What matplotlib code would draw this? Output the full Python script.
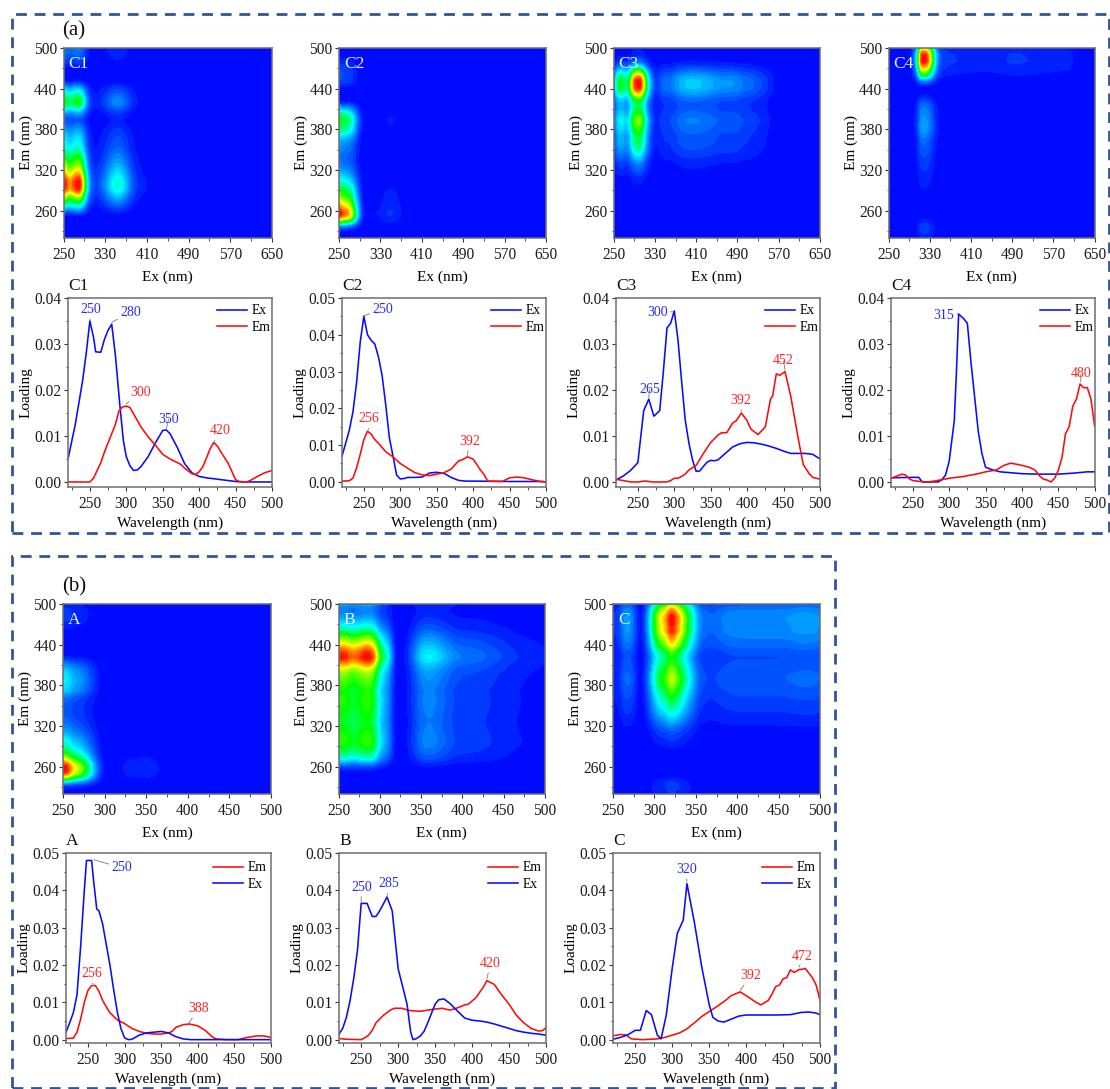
# -*- coding: utf-8 -*-

import numpy as np
import matplotlib
matplotlib.use("Agg")
import matplotlib.pyplot as plt
import matplotlib.patches as mpatches
from matplotlib.colors import LinearSegmentedColormap
from matplotlib.ticker import FormatStrFormatter

FIG_W, FIG_H = 1110, 1089

# loadings, ex also carries the part past 500 nm seen in the maps
c1_ex_x = [220, 230, 240, 245, 250, 255, 258, 265, 270, 275, 280, 285, 291, 296, 300, 305, 310, 315, 320, 330, 340, 350, 355, 360, 370, 380, 390, 400, 410, 420, 440, 450, 460, 500, 650]
c1_ex = [.005, .0125, .022, .028, .035, .0315, .0283, .0282, .031, .033, .0343, .0276, .017, .009, .0055, .0035, .0025, .0026, .0033, .0055, .0085, .0112, .0113, .0105, .0075, .004, .002, .0012, .0009, .0007, .0003, .0001, 0, 0, 0]
c1_em_x = [220, 250, 255, 260, 265, 270, 280, 285, 290, 295, 300, 305, 310, 320, 330, 340, 350, 360, 370, 375, 380, 390, 395, 400, 405, 410, 415, 420, 425, 430, 440, 450, 455, 465, 470, 480, 490, 500]
c1_em = [0, 0, .0008, .0025, .0042, .0065, .0105, .0125, .0155, .0163, .0165, .0162, .0148, .012, .0098, .008, .006, .005, .0042, .0038, .003, .0018, .0016, .0022, .0033, .0052, .0072, .0086, .0078, .0065, .004, .0005, .0001, 0, .0003, .0012, .002, .0025]

c2_ex_x = [220, 230, 235, 240, 245, 250, 255, 260, 265, 270, 275, 280, 285, 290, 295, 300, 305, 310, 320, 330, 340, 350, 360, 370, 380, 390, 400, 450, 490, 500, 650]
c2_ex = [.007, .014, .019, .027, .038, .045, .04, .0385, .0375, .034, .029, .021, .012, .007, .0018, .0008, .0009, .0012, .0012, .0013, .0024, .0026, .0023, .0012, .0004, .0002, .0002, .0001, .0001, 0, 0]
c2_em_x = [220, 230, 235, 240, 245, 250, 255, 260, 265, 270, 280, 290, 300, 310, 320, 330, 340, 350, 360, 370, 380, 385, 392, 400, 410, 415, 420, 440, 450, 460, 470, 480, 490, 500]
c2_em = [.0002, .0003, .001, .0038, .0075, .0115, .0138, .013, .0115, .0105, .0082, .0068, .005, .0037, .0025, .0019, .0017, .0021, .0025, .0035, .0057, .006, .0068, .0062, .0032, .002, .0002, .0001, .0011, .0013, .0011, .0006, .0002, 0]

c3_ex_x = [220, 230, 240, 250, 258, 265, 272, 280, 285, 290, 295, 300, 305, 310, 315, 320, 325, 330, 335, 340, 345, 350, 355, 360, 370, 380, 390, 400, 410, 420, 430, 440, 450, 460, 470, 480, 490, 500, 520, 540, 560, 575, 590, 650]
c3_ex = [.0004, .0013, .0025, .0042, .0155, .018, .0143, .0155, .024, .0335, .0345, .0372, .031, .022, .0135, .0085, .0048, .0023, .0024, .0034, .0043, .0047, .0046, .0048, .0062, .0076, .0083, .0086, .0085, .0082, .0078, .0073, .0067, .0062, .0062, .0062, .006, .005, .0042, .0028, .001, .0002, 0, 0]
c3_em_x = [220, 230, 240, 250, 260, 270, 280, 290, 295, 300, 305, 310, 315, 320, 330, 340, 350, 360, 365, 372, 380, 385, 392, 400, 405, 415, 425, 432, 435, 440, 445, 452, 460, 465, 470, 477, 485, 490, 500]
c3_em = [.0006, .0003, 0, 0, .0002, 0, 0, 0, .0003, .0008, .0008, .0012, .0017, .0026, .0036, .0062, .0086, .0102, .0107, .0107, .0128, .0133, .015, .0133, .0115, .0103, .012, .018, .0187, .0235, .0232, .024, .0185, .014, .0095, .0038, .0018, .001, .0006]

c4_ex_x = [220, 250, 258, 263, 285, 290, 295, 300, 307, 310, 313, 320, 325, 330, 335, 340, 345, 350, 360, 370, 400, 420, 450, 470, 490, 500, 550, 600, 620, 650]
c4_ex = [.0009, .001, .001, 0, 0, .0005, .0015, .0045, .0133, .024, .0365, .0355, .0345, .026, .0185, .011, .0062, .0032, .0026, .0022, .0018, .0017, .0017, .0019, .0022, .0022, .0018, .0015, .0001, 0]
c4_em_x = [220, 230, 235, 240, 245, 250, 260, 270, 280, 290, 300, 320, 340, 350, 365, 375, 385, 400, 410, 418, 425, 430, 435, 440, 445, 450, 455, 460, 465, 470, 475, 480, 485, 490, 495, 500]
c4_em = [.0008, .0014, .0017, .0015, .0007, .0003, .0001, 0, .0002, .0005, .0008, .0012, .0018, .0022, .0026, .0036, .0041, .0036, .0032, .0026, .0012, .0006, .0004, 0, .0008, .0025, .0052, .0105, .012, .0165, .018, .0213, .0205, .0205, .018, .0122]

a_ex_x = [220, 225, 230, 235, 240, 245, 248, 255, 258, 262, 265, 270, 275, 280, 285, 290, 295, 300, 305, 310, 320, 330, 340, 350, 360, 370, 380, 390, 500]
a_ex = [.002, .0045, .0072, .012, .025, .04, .048, .048, .042, .035, .0345, .031, .0255, .02, .0135, .0075, .003, .0005, 0, .0001, .0012, .0018, .002, .0022, .0018, .0008, .0002, 0, 0]
a_em_x = [220, 230, 235, 240, 245, 250, 255, 260, 265, 270, 275, 280, 290, 300, 310, 320, 330, 340, 350, 360, 365, 370, 380, 388, 400, 410, 420, 425, 440, 455, 465, 480, 490, 500]
a_em = [.0003, .0004, .002, .0055, .01, .0132, .0145, .0145, .013, .0105, .0088, .0072, .0053, .0043, .003, .0022, .0017, .0015, .0015, .0018, .0022, .0033, .004, .0042, .0037, .0025, .0007, .0002, 0, 0, .0005, .001, .001, .0006]

b_ex_x = [220, 225, 230, 235, 240, 245, 250, 258, 265, 270, 275, 285, 292, 300, 307, 312, 317, 320, 325, 330, 335, 340, 345, 350, 355, 362, 370, 380, 390, 400, 410, 420, 430, 440, 450, 460, 470, 480, 490, 500]
b_ex = [.0015, .003, .006, .0105, .0165, .024, .0365, .0365, .033, .033, .0345, .0382, .0345, .019, .0135, .0095, .002, 0, .0003, .001, .0022, .0045, .007, .0095, .0107, .0109, .0097, .0077, .0058, .0052, .005, .0047, .0042, .0036, .003, .0024, .002, .0017, .0015, .0012]
b_em_x = [220, 230, 250, 255, 260, 265, 270, 280, 290, 295, 305, 315, 330, 340, 350, 360, 370, 380, 390, 395, 405, 415, 420, 430, 440, 450, 460, 470, 480, 490, 495, 500]
b_em = [.0003, .0001, 0, .0005, .0012, .0025, .0045, .0065, .008, .0084, .0084, .0078, .0076, .0079, .0082, .0084, .0079, .0085, .0093, .0095, .0112, .014, .0158, .0148, .012, .0095, .0065, .0045, .003, .0023, .0024, .0032]

c_ex_x = [220, 230, 240, 250, 257, 265, 272, 280, 285, 292, 300, 307, 315, 320, 330, 340, 350, 355, 362, 370, 380, 390, 400, 420, 440, 460, 475, 485, 495, 500]
c_ex = [.0001, .0006, .0013, .0025, .0025, .0078, .0067, .0012, .0002, .0065, .019, .0285, .032, .0418, .0315, .0195, .0095, .006, .005, .0047, .0055, .0063, .0066, .0066, .0066, .0067, .0073, .0074, .0071, .0067]
c_em_x = [220, 230, 238, 245, 260, 280, 290, 300, 310, 320, 330, 340, 350, 360, 370, 380, 392, 400, 412, 420, 430, 435, 440, 445, 450, 455, 460, 465, 472, 475, 480, 490, 495, 500]
c_em = [.001, .0014, .0012, .0002, 0, .0002, .0006, .0012, .0018, .0029, .0045, .0062, .0075, .0088, .0102, .0118, .0128, .0118, .0102, .0093, .0105, .0122, .0142, .0146, .0163, .0166, .0187, .018, .0188, .0188, .0191, .0165, .0145, .0105]

names_a = ["C1", "C2", "C3", "C4"]
names_b = ["A", "B", "C"]
em_ticks = [260, 320, 380, 440, 500]
map_ticks_a = [250, 330, 410, 490, 570, 650]
map_ticks_b = [250, 300, 350, 400, 450, 500]
line_ticks = [250, 300, 350, 400, 450, 500]

FONT = "Liberation Serif"
BLUE = "#0a0aff"
RED = "#ff0a0a"
TXT_BLUE = "#2a2aff"
TXT_RED = "#ff2525"
GRAY = "#6e6e6e"
DASH = "#2f5597"

plt.rcParams["font.family"] = FONT
plt.rcParams["font.size"] = 11.2
plt.rcParams["axes.edgecolor"] = GRAY
plt.rcParams["axes.linewidth"] = 1.1
plt.rcParams["xtick.color"] = "#333333"
plt.rcParams["ytick.color"] = "#333333"
plt.rcParams["xtick.labelcolor"] = "#1a1a1a"
plt.rcParams["ytick.labelcolor"] = "#1a1a1a"
plt.rcParams["xtick.major.size"] = 3
plt.rcParams["ytick.major.size"] = 3
plt.rcParams["xtick.minor.size"] = 1.8
plt.rcParams["ytick.minor.size"] = 1.8
plt.rcParams["xtick.major.pad"] = 3.5
plt.rcParams["ytick.major.pad"] = 1.5

rainbow = LinearSegmentedColormap.from_list(
    "eem", [(0, "#0000ff"), (.3, "#00ffff"), (.5, "#00ff00"), (.73, "#ffff00"), (1, "#ff0000")])

fig = plt.figure(figsize=(FIG_W / 100, FIG_H / 100), dpi=100)


def add_ax(left, top, right, bottom):
    return fig.add_axes([left / FIG_W, 1 - bottom / FIG_H, (right - left) / FIG_W, (bottom - top) / FIG_H])


def smooth_on_grid(grid, wl, val):
    """loading on a 2 nm grid, lightly smoothed so the map has no facets"""
    y = np.interp(grid, wl, val)
    kernel = np.array([1, 2, 3, 2, 1]) / 9
    pad = np.pad(y, 2, mode="edge")
    return np.convolve(pad, kernel, mode="valid")


def plot_map(box, ex_x, ex, em_x, em, name, xticks):
    ax = add_ax(*box)
    w = box[2] - box[0]
    h = box[3] - box[1]
    # each component is the product of its ex and em loadings
    ex_grid = np.arange(220, ex_x[-1] + 1, 2)
    em_grid = np.arange(220, 501, 2)
    z = np.outer(smooth_on_grid(em_grid, em_x, em), smooth_on_grid(ex_grid, ex_x, ex))
    ax.set_facecolor("#0000ff")
    ax.contourf(ex_grid, em_grid, z, levels=np.linspace(0, z.max(), 36), cmap=rainbow)
    ax.set_xlim(xticks[0], xticks[-1])
    ax.set_ylim(220, 500)
    ax.set_xticks(xticks)
    ax.set_xticks((np.array(xticks[:-1]) + np.array(xticks[1:])) / 2, minor=True)
    ax.set_yticks(em_ticks)
    ax.set_yticks([290, 350, 410, 470, 230], minor=True)
    ax.set_xlabel("Ex (nm)", fontsize=11)
    ax.set_ylabel("Em (nm)", fontsize=11)
    ax.xaxis.set_label_coords(.5, -33 / h)
    ax.yaxis.set_label_coords(-31 / w, .5)
    ax.text(5 / w, 1 - 16 / h, name, color="#e2f2ff", fontsize=12.5, va="center", ha="left", transform=ax.transAxes)
    return ax


def plot_line(box, curves, name, ymax, ybottom, notes, leg_dx, leg_dy):
    ax = add_ax(*box)
    w = box[2] - box[0]
    h = box[3] - box[1]
    for wl, val, col, lab in curves:
        ax.plot(wl, val, color=col, lw=1.15, label=lab)
    ax.set_xlim(220, 500)
    ax.set_ylim(ybottom, ymax)
    ax.set_xticks(line_ticks)
    ax.set_xticks([225, 275, 325, 375, 425, 475], minor=True)
    ax.set_yticks(np.arange(0, ymax + .001, .01))
    ax.set_yticks(np.arange(.005, ymax, .01), minor=True)
    ax.yaxis.set_major_formatter(FormatStrFormatter("%.2f"))
    ax.set_xlabel("Wavelength (nm)", fontsize=11)
    ax.set_ylabel("Loading", fontsize=11)
    ax.xaxis.set_label_coords(.5, -30 / h)
    ax.yaxis.set_label_coords(-35 / w, .5)
    ax.text(0, 1 + 4 / h, name, fontsize=12.5, va="bottom", ha="left", color="#111111", transform=ax.transAxes)
    ax.legend(loc="upper right", bbox_to_anchor=(1 - leg_dx / w, 1 - leg_dy / h), frameon=False, fontsize=9.8,
              handlelength=2.2, handletextpad=.35, labelspacing=.25, borderaxespad=0, borderpad=.1)
    for txt, xy, xytext, col in notes:
        ax.annotate(txt, xy=xy, xytext=xytext, color=col, fontsize=10, ha="center", va="center",
                    arrowprops=dict(arrowstyle="-", color="#777777", lw=.6, shrinkA=0, shrinkB=0))
    return ax


map_boxes_a = [(63.6, 48, 272, 238), (339, 48, 546, 238), (613.6, 48, 820, 238), (888.6, 48, 1094.6, 238)]
line_boxes_a = [(68, 298, 272, 487), (342, 298, 546, 487), (616, 298, 820, 487), (891, 298, 1094.6, 487)]
map_boxes_b = [(63, 604, 271, 794), (338.5, 604, 545, 794), (613, 604, 820, 794)]
line_boxes_b = [(66, 853, 271, 1043), (339, 853, 546, 1043), (613, 853, 820, 1043)]

ex_em_a = [(c1_ex_x, c1_ex, c1_em_x, c1_em), (c2_ex_x, c2_ex, c2_em_x, c2_em),
           (c3_ex_x, c3_ex, c3_em_x, c3_em), (c4_ex_x, c4_ex, c4_em_x, c4_em)]
ex_em_b = [(a_ex_x, a_ex, a_em_x, a_em), (b_ex_x, b_ex, b_em_x, b_em), (c_ex_x, c_ex, c_em_x, c_em)]

notes_a = [
    [("250", (250, .0352), (251, .0375), TXT_BLUE), ("280", (280, .0347), (306, .0369), TXT_BLUE),
     ("300", (300, .017), (319.5, .0195), TXT_RED), ("350", (355, .0116), (358, .0136), TXT_BLUE),
     ("420", (421, .0089), (429, .0111), TXT_RED)],
    [("250", (250, .0452), (276, .0468), TXT_BLUE), ("256", (256, .0142), (257, .0171), TXT_RED),
     ("392", (392, .0072), (395, .011), TXT_RED)],
    [("300", (298, .037), (277, .0369), TXT_BLUE), ("265", (265, .0183), (266, .0201), TXT_BLUE),
     ("392", (392, .0153), (391, .0177), TXT_RED), ("452", (452, .0243), (450, .0263), TXT_RED)],
    [("315", (313, .0366), (292.5, .0363), TXT_BLUE), ("480", (481, .0218), (481, .0235), TXT_RED)],
]
notes_b = [
    [("250", (258, .0482), (296.6, .046), TXT_BLUE), ("256", (256, .015), (255.6, .0176), TXT_RED),
     ("388", (388, .0045), (401, .0083), TXT_RED)],
    [("250", (250, .0368), (250.4, .0408), TXT_BLUE), ("285", (285, .0386), (287.6, .0417), TXT_BLUE),
     ("420", (420, .0163), (425, .0204), TXT_RED)],
    [("320", (320, .0423), (319, .0456), TXT_BLUE), ("392", (392, .0132), (406.5, .0171), TXT_RED),
     ("472", (472, .0195), (476, .0224), TXT_RED)],
]
ymax_a = [.04, .05, .04, .04]
ybot_a = [-.0011, -.0014, -.0011, -.0011]

for i in range(4):
    ex_x, ex, em_x, em = ex_em_a[i]
    plot_map(map_boxes_a[i], ex_x, ex, em_x, em, names_a[i], map_ticks_a)
    curves = [(ex_x, ex, BLUE, "Ex"), (em_x, em, RED, "Em")]
    plot_line(line_boxes_a[i], curves, names_a[i], ymax_a[i], ybot_a[i], notes_a[i], 0, 5)

for i in range(3):
    ex_x, ex, em_x, em = ex_em_b[i]
    plot_map(map_boxes_b[i], ex_x, ex, em_x, em, names_b[i], map_ticks_b)
    curves = [(em_x, em, RED, "Em"), (ex_x, ex, BLUE, "Ex")]
    plot_line(line_boxes_b[i], curves, names_b[i], .05, -.0009, notes_b[i], 3, 7)

# dashed frames round the two groups
for left, top, right, bottom in [(12, 14, 1109, 533), (12, 556, 835, 1088)]:
    fig.add_artist(mpatches.Rectangle(
        (left / FIG_W, 1 - bottom / FIG_H), (right - left) / FIG_W, (bottom - top) / FIG_H,
        transform=fig.transFigure, fill=False, edgecolor=DASH, lw=2, linestyle=(0, (3.9, 2.8)), clip_on=False))

fig.text(62 / FIG_W, 1 - 31 / FIG_H, "(a)", fontsize=15, va="center", ha="left", color="#111111")
fig.text(62 / FIG_W, 1 - 587 / FIG_H, "(b)", fontsize=15, va="center", ha="left", color="#111111")

fig.savefig("out.png", dpi=100)
